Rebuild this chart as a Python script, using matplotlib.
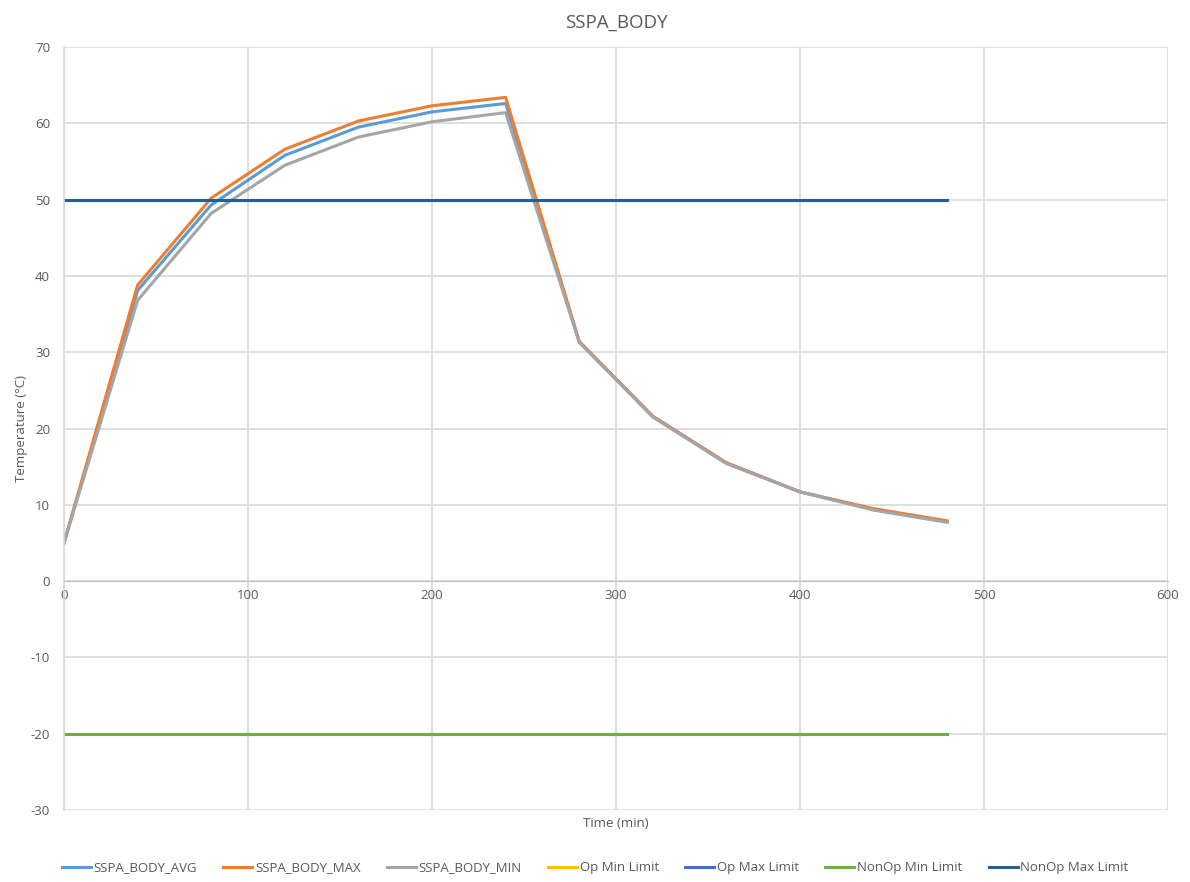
import matplotlib
matplotlib.use('Agg')
import matplotlib.pyplot as plt
import numpy as np

# data
time = [0, 40, 80, 120, 160, 200, 240, 280, 320, 360, 400, 440, 480]
avg = [5.0, 38.1, 49.3, 55.8, 59.5, 61.5, 62.6, 31.4, 21.6, 15.5, 11.7, 9.4, 7.8]
tmax = [5.0, 38.8, 50.2, 56.6, 60.3, 62.3, 63.4, 31.4, 21.6, 15.5, 11.7, 9.5, 7.9]
tmin = [5.0, 36.8, 48.2, 54.5, 58.2, 60.2, 61.4, 31.3, 21.5, 15.4, 11.7, 9.3, 7.7]
op_min = -20
op_max = 50
nonop_min = -20
nonop_max = 50

txt = '#595959'
grid = '#d9d9d9'
plt.rcParams['font.family'] = ['Open Sans', 'DejaVu Sans']
plt.rcParams['axes.unicode_minus'] = False

fig = plt.figure(figsize=(11.9, 8.82), dpi=100)
ax = fig.add_axes([0.0538, 0.0816, 0.9277, 0.8651])

lw = 2.2
ax.plot(time, avg, color='#5B9BD5', lw=lw, label='SSPA_BODY_AVG')
ax.plot(time, tmax, color='#ED7D31', lw=lw, label='SSPA_BODY_MAX')
ax.plot(time, tmin, color='#A5A5A5', lw=lw, label='SSPA_BODY_MIN')
t = np.array(time)
ax.plot(t, np.full(len(t), op_min), color='#FFC000', lw=lw, label='Op Min Limit')
ax.plot(t, np.full(len(t), op_max), color='#4472C4', lw=lw, label='Op Max Limit')
ax.plot(t, np.full(len(t), nonop_min), color='#70AD47', lw=lw, label='NonOp Min Limit')
ax.plot(t, np.full(len(t), nonop_max), color='#255E91', lw=lw, label='NonOp Max Limit')

ax.set_xlim(0, 600)
ax.set_ylim(-30, 70)
ax.set_xticks(range(0, 601, 100))
ax.set_yticks(range(-30, 71, 10))
ax.grid(True, color=grid, lw=1.2)
ax.set_axisbelow(True)
ax.spines['top'].set_visible(False)
ax.spines['right'].set_visible(False)
ax.spines['bottom'].set_position(('data', 0))
ax.spines['bottom'].set_color('#bfbfbf')
ax.spines['left'].set_color(grid)
ax.spines['left'].set_linewidth(1.2)
ax.tick_params(length=0, colors=txt, labelsize=9.5)
ax.tick_params(axis='x', pad=6)
ax.tick_params(axis='y', pad=10)

ax.set_title('SSPA_BODY', color=txt, fontsize=13.5, pad=14)
ax.set_ylabel('Temperature (\N{DEGREE SIGN}C)', color=txt, fontsize=9.5, labelpad=2)
fig.text(0.5175, 0.066, 'Time (min)', color=txt, fontsize=9.5, ha='center', va='center')

leg = fig.legend(loc='center', bbox_to_anchor=(0.5, 0.016), ncol=7, frameon=False,
                 fontsize=9.5, handlelength=2.2, columnspacing=2.0, handletextpad=0.2)
for tx in leg.get_texts():
    tx.set_color(txt)

fig.savefig('out.png', dpi=100)
